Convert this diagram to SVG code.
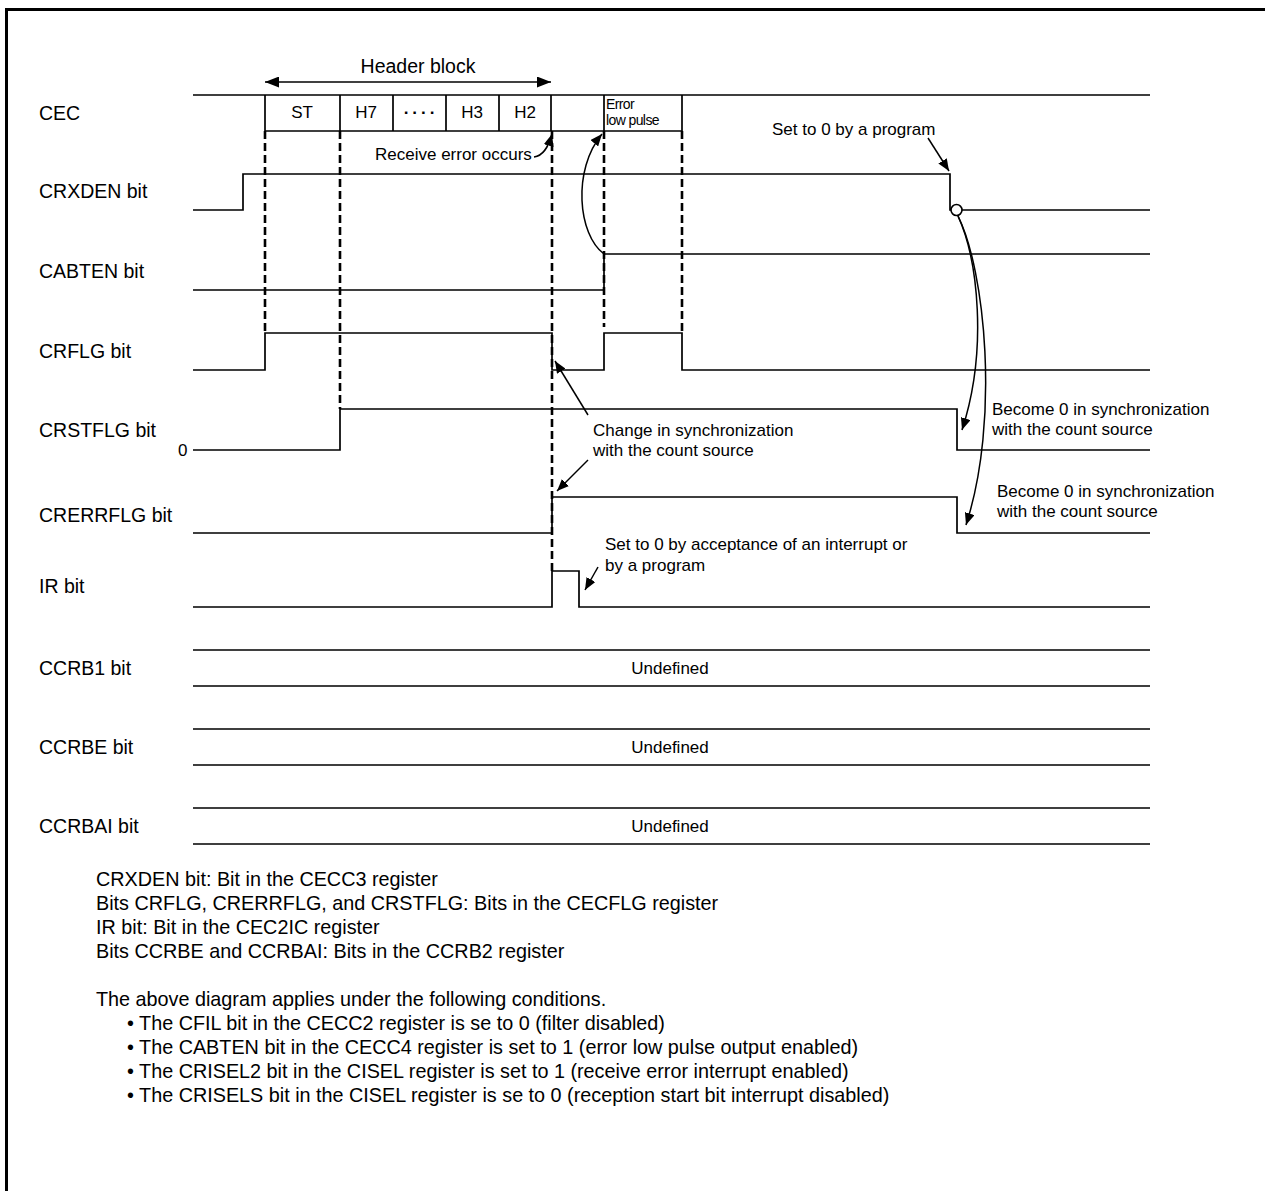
<svg xmlns="http://www.w3.org/2000/svg" width="1265" height="1191" viewBox="0 0 1265 1191">
<style>
text{font-family:"Liberation Sans",Arial,sans-serif;fill:#000}
.lbl{font-size:19.5px}
.ann{font-size:17px}
.note{font-size:19.8px}
.sig{fill:none;stroke:#000;stroke-width:1.7}
.dash{fill:none;stroke:#000;stroke-width:2.6;stroke-dasharray:8 4}
.arr{fill:none;stroke:#000;stroke-width:1.5;marker-end:url(#ah)}
</style>
<defs>
<marker id="ah" markerUnits="userSpaceOnUse" markerWidth="12" markerHeight="10" refX="12" refY="5" orient="auto"><path d="M0,0 L12,5 L0,10 Z" fill="#000"/></marker>
<marker id="hb" markerUnits="userSpaceOnUse" markerWidth="14" markerHeight="11" refX="14" refY="5.5" orient="auto-start-reverse"><path d="M0,0 L14,5.5 L0,11 Z" fill="#000"/></marker>
</defs>
<rect x="6.5" y="9.5" width="1300" height="1300" fill="#fff" stroke="#000" stroke-width="3"/>

<g id="header">
<text class="lbl" x="418" y="73" text-anchor="middle">Header block</text>
<line x1="265" y1="82" x2="551" y2="82" stroke="#000" stroke-width="1.7" marker-start="url(#hb)" marker-end="url(#hb)"/>
</g>

<g id="cec">
<text class="lbl" x="39" y="120">CEC</text>
<path class="sig" d="M193,95 H1150 M265,95 V131 H682 V95 M340,95 V131 M393,95 V131 M446,95 V131 M499,95 V131 M551,95 V131 M604,95 V131"/>
<text class="ann" x="302" y="118" text-anchor="middle">ST</text>
<text class="ann" x="366" y="118" text-anchor="middle">H7</text>
<text class="ann" x="421" y="118" text-anchor="middle" font-weight="bold" letter-spacing="3">····</text>
<text class="ann" x="472" y="118" text-anchor="middle">H3</text>
<text class="ann" x="525" y="118" text-anchor="middle">H2</text>
<text x="606" y="109" font-size="14" letter-spacing="-0.6">Error</text>
<text x="606" y="125" font-size="14" letter-spacing="-0.6">low pulse</text>
</g>

<g id="crxden">
<text class="lbl" x="39" y="198">CRXDEN bit</text>
<path class="sig" d="M193,210 H243 V174 H950 V210 H1150"/>
<circle cx="956.5" cy="210" r="5.5" fill="#fff" stroke="#000" stroke-width="1.6"/>
</g>

<g id="cabten">
<text class="lbl" x="39" y="278">CABTEN bit</text>
<path class="sig" d="M193,290 H604 V254 H1150"/>
</g>

<g id="crflg">
<text class="lbl" x="39" y="358">CRFLG bit</text>
<path class="sig" d="M193,370 H265 V333 H552 V370 H604 V333 H682 V370 H1150"/>
</g>

<g id="crstflg">
<text class="lbl" x="39" y="437">CRSTFLG bit</text>
<text class="ann" x="178" y="456">0</text>
<path class="sig" d="M193,450 H340 V409 H957 V450 H1150"/>
</g>

<g id="crerrflg">
<text class="lbl" x="39" y="522">CRERRFLG bit</text>
<path class="sig" d="M193,533 H552 V497 H957 V533 H1150"/>
</g>

<g id="ir">
<text class="lbl" x="39" y="593">IR bit</text>
<path class="sig" d="M193,607 H552 V571 H579 V607 H1150"/>
</g>

<g id="ccrb1">
<text class="lbl" x="39" y="675">CCRB1 bit</text>
<path class="sig" d="M193,650 H1150 M193,686 H1150"/>
<text class="ann" x="670" y="674" text-anchor="middle">Undefined</text>
</g>

<g id="ccrbe">
<text class="lbl" x="39" y="754">CCRBE bit</text>
<path class="sig" d="M193,729 H1150 M193,765 H1150"/>
<text class="ann" x="670" y="753" text-anchor="middle">Undefined</text>
</g>

<g id="ccrbai">
<text class="lbl" x="39" y="833">CCRBAI bit</text>
<path class="sig" d="M193,808 H1150 M193,844 H1150"/>
<text class="ann" x="670" y="832" text-anchor="middle">Undefined</text>
</g>

<g id="guides">
<path class="dash" d="M265,131 V333 M340,131 V409 M552,131 V571 M604,131 V327 M682,131 V333"/>
</g>

<g id="annotations">
<text class="ann" x="375" y="160">Receive error occurs</text>
<text class="ann" x="772" y="135">Set to 0 by a program</text>
<text class="ann" x="992" y="415">Become 0 in synchronization</text>
<text class="ann" x="992" y="435">with the count source</text>
<text class="ann" x="997" y="497">Become 0 in synchronization</text>
<text class="ann" x="997" y="517">with the count source</text>
<text class="ann" x="593" y="436">Change in synchronization</text>
<text class="ann" x="593" y="456">with the count source</text>
<text class="ann" x="605" y="550">Set to 0 by acceptance of an interrupt or</text>
<text class="ann" x="605" y="571">by a program</text>
</g>

<g id="connectors">
<path class="arr" d="M534,157 C543,156 548,148 552,134"/>
<path class="arr" d="M604,254 C578,235 572,170 602,134"/>
<path class="arr" d="M928,138 L949,171"/>
<path class="arr" d="M958,216 C978,260 988,350 962,430"/>
<path class="arr" d="M958,216 C985,270 1000,420 966,525"/>
<path class="arr" d="M588,415 L555,361"/>
<path class="arr" d="M588,460 L557,491"/>
<path class="arr" d="M598,567 L585,590"/>
</g>

<g id="notes">
<text class="note" x="96" y="886">CRXDEN bit: Bit in the CECC3 register</text>
<text class="note" x="96" y="910">Bits CRFLG, CRERRFLG, and CRSTFLG: Bits in the CECFLG register</text>
<text class="note" x="96" y="934">IR bit: Bit in the CEC2IC register</text>
<text class="note" x="96" y="958">Bits CCRBE and CCRBAI: Bits in the CCRB2 register</text>
<text class="note" x="96" y="1006">The above diagram applies under the following conditions.</text>
<text class="note" x="127" y="1030">• The CFIL bit in the CECC2 register is se to 0 (filter disabled)</text>
<text class="note" x="127" y="1054">• The CABTEN bit in the CECC4 register is set to 1 (error low pulse output enabled)</text>
<text class="note" x="127" y="1078">• The CRISEL2 bit in the CISEL register is set to 1 (receive error interrupt enabled)</text>
<text class="note" x="127" y="1102">• The CRISELS bit in the CISEL register is se to 0 (reception start bit interrupt disabled)</text>
</g>
</svg>
